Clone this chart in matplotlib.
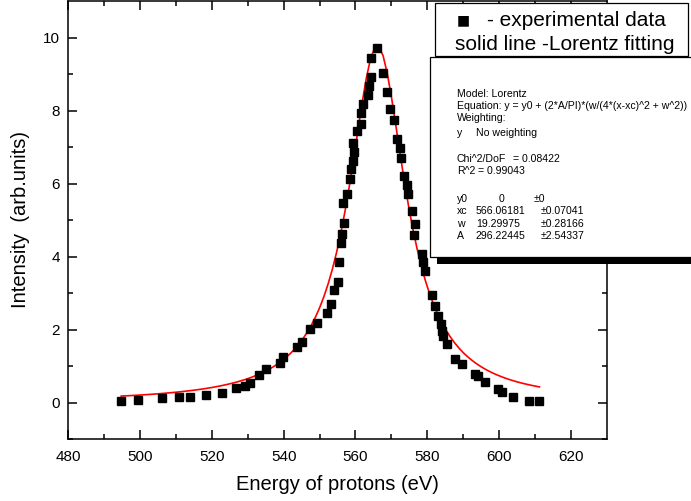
import numpy as np
import matplotlib
matplotlib.use('Agg')
import matplotlib.pyplot as plt
from matplotlib.patches import Rectangle

# experimental points
energy = [494.8, 499.6, 506.2, 510.8, 513.9, 518.3, 522.9, 526.8, 529.3, 530.6,
          533.2, 535.2, 539.0, 539.9, 543.6, 545.2, 547.4, 549.4, 552.0, 553.2,
          554.0, 555.0, 555.4, 555.9, 556.2, 556.8, 556.6, 557.7, 558.5, 558.8,
          559.2, 559.6, 559.4, 560.5, 561.5, 561.5, 562.2, 563.4, 563.7, 564.2,
          564.4, 566.1, 567.8, 568.9, 569.6, 570.8, 571.6, 572.4, 572.6, 573.6,
          574.3, 574.7, 575.7, 576.6, 576.4, 578.4, 578.9, 579.4, 581.2, 582.1,
          583.1, 583.7, 584.0, 584.3, 585.4, 587.7, 589.6, 593.3, 594.2, 596.1,
          599.8, 600.7, 603.8, 608.3, 611.2]
intensity = [0.04, 0.06, 0.11, 0.15, 0.16, 0.21, 0.25, 0.39, 0.45, 0.53,
             0.75, 0.93, 1.08, 1.26, 1.52, 1.67, 2.02, 2.18, 2.45, 2.70,
             3.07, 3.30, 3.84, 4.36, 4.63, 4.92, 5.46, 5.71, 6.12, 6.40,
             6.62, 6.85, 7.12, 7.43, 7.64, 7.92, 8.18, 8.42, 8.68, 8.91,
             9.43, 9.72, 9.02, 8.51, 8.04, 7.74, 7.23, 6.96, 6.71, 6.21,
             5.96, 5.70, 5.26, 4.90, 4.58, 4.08, 3.84, 3.61, 2.95, 2.64,
             2.36, 2.14, 1.96, 1.82, 1.61, 1.20, 1.05, 0.78, 0.72, 0.55,
             0.37, 0.28, 0.14, 0.05, 0.03]

# Lorentz fit parameters as printed in the box
y0 = 0.0
xc = 566.06181
w = 19.29975
A = 296.22445

xticks = [480, 500, 520, 540, 560, 580, 600, 620]
yticks = [0, 2, 4, 6, 8, 10]

info_lines = [
    ("Model: Lorentz", None, None),
    ("Equation: y = y0 + (2*A/PI)*(w/(4*(x-xc)^2 + w^2))", None, None),
    ("Weighting:", None, None),
    ("y", "No weighting", None),
    ("Chi^2/DoF", "= 0.08422", None),
    ("R^2", "= 0.99043", None),
    ("y0", "0", "\u00b10"),
    ("xc", "566.06181", "\u00b10.07041"),
    ("w", "19.29975", "\u00b10.28166"),
    ("A", "296.22445", "\u00b12.54337"),
]

plt.rcParams['font.family'] = ['Liberation Sans', 'DejaVu Sans']

W, H = 691, 501
fig = plt.figure(figsize=(W / 100, H / 100), dpi=100)


def fx(px):
    return px / W


def fy(py):
    return 1 - py / H


ax = fig.add_axes([fx(68), fy(439), fx(607) - fx(68), fy(1) - fy(439)])

xfit = np.linspace(min(energy), max(energy), 100)
yfit = y0 + (2 * A / np.pi) * (w / (4 * (xfit - xc) ** 2 + w ** 2))
ax.plot(xfit, yfit, color='#ff0000', lw=1.2, zorder=2)
ax.plot(energy, intensity, 's', color='black', ms=6, mec='black', zorder=3)

ax.set_xlim(480, 630)
ax.set_ylim(-1, 11)
ax.set_xticks(xticks)
ax.set_yticks(yticks)
ax.set_xticks(np.arange(490, 630, 20), minor=True)
ax.set_yticks(np.arange(-1, 11, 2), minor=True)
ax.tick_params(which='both', direction='in', right=True, top=True, width=1.1)
ax.tick_params(which='major', length=6.5, labelsize=11)
ax.tick_params(axis='x', which='major', pad=8)
ax.tick_params(axis='y', which='major', pad=6)
ax.tick_params(which='minor', length=3.8)
for s in ax.spines.values():
    s.set_linewidth(1.1)

ax.set_xlabel("Energy of protons (eV)", fontsize=14.5, labelpad=8)
ax.set_ylabel("Intensity  (arb.units)", fontsize=14.5, labelpad=9)

# fit result box with shadow
fig.add_artist(Rectangle((fx(437), fy(264)), fx(700) - fx(437), fy(256) - fy(264),
                         transform=fig.transFigure, facecolor='black', edgecolor='none',
                         zorder=5))
fig.add_artist(Rectangle((fx(430), fy(257)), fx(700) - fx(430), fy(57) - fy(257),
                         transform=fig.transFigure, facecolor='white', edgecolor='black',
                         lw=0.9, zorder=6))
line_y = [94, 106, 118, 133, 159, 171, 199, 211, 224, 236]
for (a, b, c), py in zip(info_lines, line_y):
    fig.text(fx(457), fy(py), a, fontsize=7.6, va='center', zorder=7)
    if b is not None:
        bx = 476
        if a == "Chi^2/DoF":
            bx = 513
        if a == "R^2":
            bx = 478
        if a == "y0":
            bx = 499
        fig.text(fx(bx), fy(py), b, fontsize=7.6, va='center', zorder=7)
    if c is not None:
        cx = 534 if a == "y0" else 541
        fig.text(fx(cx), fy(py), c, fontsize=7.6, va='center', zorder=7)

# legend box
fig.add_artist(Rectangle((fx(435), fy(56)), fx(688) - fx(435), fy(3) - fy(56),
                         transform=fig.transFigure, facecolor='white', edgecolor='black',
                         lw=0.9, zorder=8))
fig.text(fx(463), fy(20), "\u25a0", fontsize=10, ha='center', va='center', zorder=9,
         family=['DejaVu Sans'])
fig.text(fx(487), fy(20), "- experimental data", fontsize=15, va='center', zorder=9)
fig.text(fx(565), fy(44), "solid line -Lorentz fitting", fontsize=15, ha='center',
         va='center', zorder=9)

fig.savefig("out.png", dpi=100)
